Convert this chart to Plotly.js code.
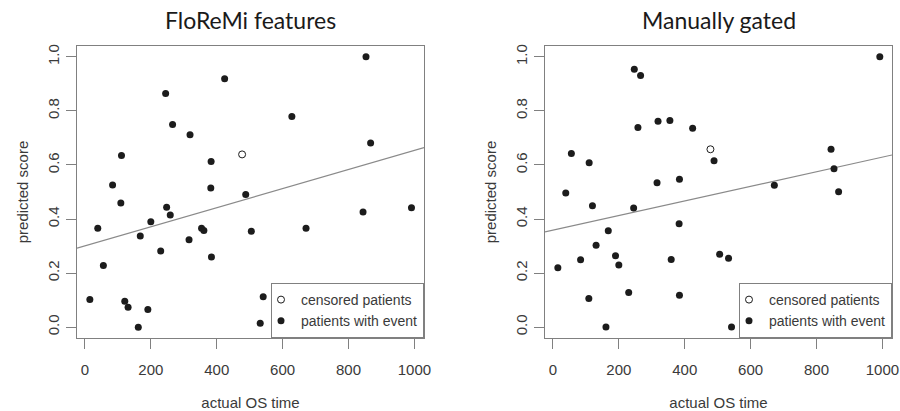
<!DOCTYPE html>
<html>
<head>
<meta charset="utf-8">
<script src="https://cdn.plot.ly/plotly-3.0.1.min.js"></script>
<style>html,body{margin:0;padding:0;background:#fff;}#chart{width:900px;height:411px;}</style>
</head>
<body>
<div id="chart"></div>
<script>
// ---- data ----
const panelTitles = ["FloReMi features", "Manually gated"];
const xTickVals = [0, 200, 400, 600, 800, 1000];
const yTickVals = [0.0, 0.2, 0.4, 0.6, 0.8, 1.0];
const yTickText = ["0.0", "0.2", "0.4", "0.6", "0.8", "1.0"];
const legendNames = ["censored patients", "patients with event"];

// FloReMi features panel
const leftEventX = [424, 245, 628, 266, 319, 111, 383, 84, 382, 109, 488, 248, 259, 39, 200, 168, 354, 361, 316, 230, 505, 671, 384, 56, 15, 121, 131, 191, 162, 541, 532, 853, 867, 844, 991];
const leftEventY = [0.919, 0.864, 0.779, 0.750, 0.712, 0.635, 0.613, 0.526, 0.515, 0.459, 0.491, 0.444, 0.415, 0.366, 0.390, 0.337, 0.366, 0.358, 0.323, 0.282, 0.355, 0.366, 0.260, 0.228, 0.102, 0.096, 0.074, 0.065, 0.000, 0.113, 0.015, 1.000, 0.681, 0.426, 0.442];
const leftCensX = [477];
const leftCensY = [0.639];
const leftIntercept = 0.301;
const leftSlope = 0.000353;

// Manually gated panel
const rightEventX = [247, 266, 319, 355, 258, 424, 56, 110, 39, 316, 384, 120, 245, 489, 383, 168, 131, 190, 84, 359, 200, 15, 109, 230, 384, 161, 992, 844, 853, 672, 867, 506, 533, 628, 542];
const rightEventY = [0.954, 0.931, 0.762, 0.764, 0.739, 0.736, 0.642, 0.608, 0.496, 0.534, 0.547, 0.449, 0.441, 0.616, 0.383, 0.357, 0.303, 0.264, 0.249, 0.250, 0.230, 0.220, 0.106, 0.128, 0.118, 0.001, 1.000, 0.658, 0.586, 0.525, 0.501, 0.270, 0.255, 0.147, 0.001];
const rightCensX = [478];
const rightCensY = [0.658];
const rightIntercept = 0.359;
const rightSlope = 0.00027;

// ---- styling ----
const xRange = [-24, 1029];
const yRange = [-0.04, 1.04];
const boxColor = "#808080";
const textColor = "#3a3a3a";
const dotColor = "#1c1c1c";
const lineColor = "#8a8a8a";
const axisFont = {family: "Liberation Sans, Arial, sans-serif", size: 15, color: textColor};

function fitLine(intercept, slope) {
  return xRange.map(x => intercept + slope * x);
}

const traces = [
  {x: xRange, y: fitLine(leftIntercept, leftSlope), xaxis: "x", yaxis: "y", mode: "lines",
   line: {color: lineColor, width: 1.2}, showlegend: false, hoverinfo: "skip"},
  {x: leftCensX, y: leftCensY, xaxis: "x", yaxis: "y", mode: "markers", name: legendNames[0], legend: "legend",
   marker: {symbol: "circle-open", size: 7, color: dotColor, line: {width: 1, color: dotColor}}},
  {x: leftEventX, y: leftEventY, xaxis: "x", yaxis: "y", mode: "markers", name: legendNames[1], legend: "legend",
   marker: {symbol: "circle", size: 7, color: dotColor}},
  {x: xRange, y: fitLine(rightIntercept, rightSlope), xaxis: "x2", yaxis: "y2", mode: "lines",
   line: {color: lineColor, width: 1.2}, showlegend: false, hoverinfo: "skip"},
  {x: rightCensX, y: rightCensY, xaxis: "x2", yaxis: "y2", mode: "markers", name: legendNames[0], legend: "legend2",
   marker: {symbol: "circle-open", size: 7, color: dotColor, line: {width: 1, color: dotColor}}},
  {x: rightEventX, y: rightEventY, xaxis: "x2", yaxis: "y2", mode: "markers", name: legendNames[1], legend: "legend2",
   marker: {symbol: "circle", size: 7, color: dotColor}}
];

function xAxis(domain, anchor) {
  return {
    domain: domain, anchor: anchor, range: xRange, autorange: false,
    tickvals: xTickVals, ticktext: xTickVals.map(String),
    ticks: "outside", ticklen: 10, tickwidth: 1, tickcolor: boxColor,
    showline: true, linecolor: boxColor, linewidth: 1.3, mirror: true,
    showgrid: false, zeroline: false, tickfont: axisFont, ticklabelstandoff: 8,
    title: {text: "actual OS time", font: axisFont, standoff: 22}
  };
}
function yAxis(domain, anchor) {
  return {
    domain: domain, anchor: anchor, range: yRange, autorange: false,
    tickvals: yTickVals, ticktext: yTickText, tickangle: -90,
    ticks: "outside", ticklen: 10, tickwidth: 1, tickcolor: boxColor,
    showline: true, linecolor: boxColor, linewidth: 1.3, mirror: true,
    showgrid: false, zeroline: false, tickfont: axisFont, ticklabelstandoff: 1,
    title: {text: "predicted score", font: axisFont, standoff: 12}
  };
}

const yDom = [1 - 338 / 411, 1 - 46 / 411];
const xDom1 = [77 / 900, 424 / 900];
const xDom2 = [545 / 900, 892 / 900];

function legendCfg(xRight) {
  return {
    x: xRight, xanchor: "right", y: yDom[0], yanchor: "bottom",
    bordercolor: boxColor, borderwidth: 1, bgcolor: "#ffffff",
    font: {family: "Liberation Sans, Arial, sans-serif", size: 14, color: textColor},
    itemwidth: 30, indentation: -11, tracegroupgap: 0, traceorder: "normal"
  };
}

const titleFont = {family: "Lato, Open Sans, sans-serif", size: 23, color: "#1a1a1a", weight: 400};

const layout = {
  width: 900, height: 411,
  margin: {l: 0, r: 0, t: 0, b: 0},
  paper_bgcolor: "#ffffff", plot_bgcolor: "#ffffff",
  showlegend: true,
  xaxis: xAxis(xDom1, "y"),
  yaxis: yAxis(yDom, "x"),
  xaxis2: xAxis(xDom2, "y2"),
  yaxis2: yAxis(yDom, "x2"),
  legend: legendCfg(xDom1[1]),
  legend2: legendCfg(xDom2[1]),
  annotations: [
    {text: panelTitles[0], xref: "paper", yref: "paper", x: (xDom1[0] + xDom1[1]) / 2, y: 1 - 20 / 411,
     xanchor: "center", yanchor: "middle", showarrow: false, font: titleFont},
    {text: panelTitles[1], xref: "paper", yref: "paper", x: (xDom2[0] + xDom2[1]) / 2, y: 1 - 20 / 411,
     xanchor: "center", yanchor: "middle", showarrow: false, font: titleFont}
  ]
};

Plotly.newPlot("chart", traces, layout, {displayModeBar: false, staticPlot: true});
</script>
</body>
</html>
